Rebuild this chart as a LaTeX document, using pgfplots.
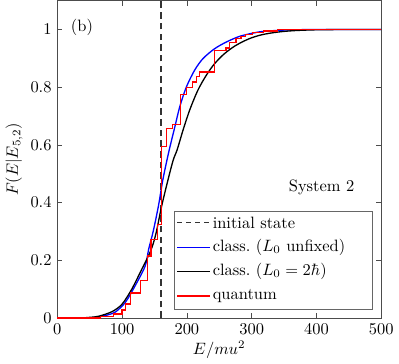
\documentclass[border=0pt]{standalone}
\usepackage{pgfplots}
\pgfplotsset{compat=1.18}
\definecolor{mblue}{RGB}{0,0,255}
\definecolor{mred}{RGB}{255,0,0}

\begin{document}
\begin{tikzpicture}
  \begin{axis}[
      scale only axis,
      width=197pt,
      height=193pt,
      xmin=0, xmax=500,
      ymin=0, ymax=1.1,
      xtick={0,100,200,300,400,500},
      ytick={0,0.2,0.4,0.6,0.8,1},
      tick align=inside,
      xtick pos=both,
      ytick pos=both,
      major tick length=3pt,
      axis line style={black!70},
      tick style={black!70},
      xlabel={$E/mu^2$},
      ylabel={$F(E|E_{5,2})$},
      xlabel style={yshift=3pt},
      ylabel style={yshift=-2pt},
      clip=false,
    ]
    % initial state
    \addplot[draw=black!80, line width=0.8pt, dash pattern=on 4pt off 2.5pt]
      coordinates {(160,0) (160,1.1)};

    % classical, L0 unfixed
    \addplot[draw=mblue, line width=0.8pt, smooth] coordinates {
      (0,0) (40,0) (55,0.001) (67,0.005) (80,0.012) (90,0.021) (105,0.054)
      (120,0.111) (135.6,0.18) (141,0.238) (148,0.30) (156,0.387) (163,0.48)
      (172,0.575) (181.5,0.663) (189,0.732) (199.3,0.801) (212,0.859)
      (224.8,0.899) (242.6,0.933) (260.4,0.956) (281,0.976) (301,0.987)
      (316.5,0.993) (350,0.998) (400,1.0) (500,1.0)
    };

    % classical, L0 = 2hbar
    \addplot[draw=black, line width=0.8pt, smooth] coordinates {
      (0,0) (35,0) (50,0.002) (64,0.006) (84.6,0.022) (100,0.048) (115,0.1)
      (130.4,0.169) (144,0.232) (152,0.29) (161,0.387) (171,0.48) (179,0.548)
      (185,0.583) (194.2,0.652) (204.4,0.721) (217.1,0.79) (229.9,0.841)
      (242.6,0.881) (257.9,0.916) (275.7,0.945) (296.2,0.968) (316,0.982)
      (340,0.991) (365,0.996) (400,0.999) (450,1.0) (500,1.0)
    };

    % quantum
    \addplot[draw=mred, line width=0.8pt, const plot] coordinates {
      (0,0) (67,0.005) (87,0.014) (100,0.028) (105,0.048) (112.6,0.086)
      (128,0.131) (139,0.215) (144.5,0.272) (155,0.324) (161,0.594)
      (168.7,0.657) (178,0.671) (190,0.775) (199,0.798) (209,0.818)
      (215,0.838) (220,0.853) (242.6,0.928) (260.4,0.936) (265.5,0.956)
      (275.7,0.968) (283.4,0.976) (291,0.983) (301,0.989) (318,0.995)
      (340,1.0) (500,1.0)
    };

    % legend
    \draw[draw=black!60, fill=white, line width=0.5pt]
      (rel axis cs:0.362,0.028) rectangle (rel axis cs:0.972,0.335);
    \fill[black!80] ([yshift=-0.4pt]rel axis cs:0.370,0.301)
      rectangle ([yshift=0.4pt]rel axis cs:0.3865,0.301);
    \fill[black!80] ([yshift=-0.4pt]rel axis cs:0.3975,0.301)
      rectangle ([yshift=0.4pt]rel axis cs:0.414,0.301);
    \fill[black!80] ([yshift=-0.4pt]rel axis cs:0.425,0.301)
      rectangle ([yshift=0.4pt]rel axis cs:0.4415,0.301);
    \fill[black!80] ([yshift=-0.4pt]rel axis cs:0.4525,0.301)
      rectangle ([yshift=0.4pt]rel axis cs:0.469,0.301);
    \fill[mblue] ([yshift=-0.4pt]rel axis cs:0.370,0.223)
      rectangle ([yshift=0.4pt]rel axis cs:0.472,0.223);
    \fill[black] ([yshift=-0.4pt]rel axis cs:0.370,0.147)
      rectangle ([yshift=0.4pt]rel axis cs:0.472,0.147);
    \fill[mred] ([yshift=-0.4pt]rel axis cs:0.370,0.069)
      rectangle ([yshift=0.4pt]rel axis cs:0.472,0.069);
    \node[anchor=west, inner sep=0pt] at (rel axis cs:0.479,0.301) {initial state};
    \node[anchor=west, inner sep=0pt] at (rel axis cs:0.479,0.223) {class.\ ($L_0$ unfixed)};
    \node[anchor=west, inner sep=0pt] at (rel axis cs:0.479,0.147) {class.\ ($L_0=2\hbar$)};
    \node[anchor=west, inner sep=0pt] at (rel axis cs:0.479,0.069) {quantum};

    \node[anchor=center] at (axis cs:408,0.452) {System 2};
    \node[anchor=center] at (axis cs:38,1.007) {(b)};
  \end{axis}
\end{tikzpicture}
\end{document}
